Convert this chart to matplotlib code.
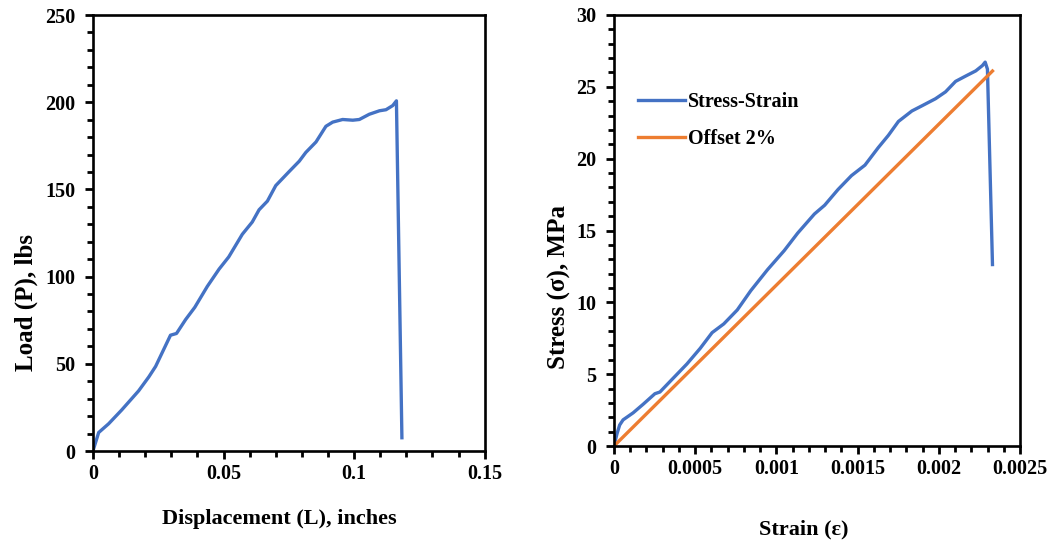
import matplotlib
matplotlib.use("Agg")
import matplotlib.pyplot as plt
from matplotlib.ticker import MultipleLocator, FuncFormatter

# ---- Data: Load vs Displacement ----
disp_in = [0, 0.0022, 0.006, 0.011, 0.0175, 0.0214, 0.024, 0.0297, 0.032, 0.0355,
           0.039, 0.0438, 0.0483, 0.052, 0.0572, 0.061, 0.0636, 0.0668, 0.070,
           0.0751, 0.079, 0.0815, 0.0854, 0.0892, 0.0918, 0.0956, 0.0995, 0.102,
           0.1058, 0.1097, 0.1122, 0.1148, 0.1162, 0.1183]
load_lbs = [0, 10.6, 15.6, 23.5, 34.5, 42.5, 48.5, 66.4, 67.4, 75.4,
            82.4, 94.4, 104.3, 111.3, 124.3, 131.3, 138.3, 143.3, 152.2,
            160.2, 166.2, 171.2, 177.2, 186.2, 188.6, 190.1, 189.7, 190.1,
            193.1, 195.1, 195.7, 198.1, 200.8, 7.6]

# ---- Data: Stress vs Strain ----
strain = [0, 0.0000186, 0.000035, 0.000056, 0.000118, 0.00018, 0.000252, 0.000283,
          0.000345, 0.000449, 0.000531, 0.000604, 0.000676, 0.000759, 0.000842,
          0.000945, 0.001048, 0.001131, 0.001234, 0.001297, 0.001379, 0.001462,
          0.001545, 0.001627, 0.001689, 0.001751, 0.001834, 0.001896, 0.001979,
          0.002041, 0.002103, 0.002165, 0.002227, 0.002268, 0.002285, 0.002299,
          0.002330]
stress = [0, 0.85, 1.46, 1.82, 2.31, 2.91, 3.64, 3.76, 4.49, 5.71, 6.80, 7.89, 8.50,
          9.47, 10.81, 12.27, 13.60, 14.82, 16.15, 16.76, 17.85, 18.82, 19.55, 20.77,
          21.62, 22.59, 23.32, 23.68, 24.17, 24.65, 25.38, 25.75, 26.11, 26.48, 26.72,
          26.23, 12.63]

offset_strain = [0, 0.00233]
offset_stress = [0, 26.1]

BLUE = "#4472C4"
ORANGE = "#ED7D31"

plt.rcParams['font.family'] = ['Liberation Serif', 'DejaVu Serif']
plt.rcParams['font.weight'] = 'bold'

fig = plt.figure(figsize=(10.56, 5.47), dpi=100)
ax1 = fig.add_axes([0.088, 0.1755, 0.371, 0.797])
ax2 = fig.add_axes([0.5814, 0.1846, 0.3846, 0.788])

gfmt = FuncFormatter(lambda v, p: "{:g}".format(round(v, 6)))

def style(ax):
    for s in ax.spines.values():
        s.set_linewidth(1.9)
        s.set_color("black")
    ax.tick_params(which='major', direction='out', length=6, width=2, labelsize=14.5, color='black')
    ax.tick_params(which='minor', direction='out', length=4.5, width=2, color='black')
    ax.tick_params(axis='y', which='major', pad=6.5)
    for lab in ax.get_xticklabels() + ax.get_yticklabels():
        lab.set_fontweight('bold')

ax1.plot(disp_in, load_lbs, color=BLUE, lw=2.4, solid_joinstyle='round')
ax1.set_xlim(0, 0.15)
ax1.set_ylim(0, 250)
ax1.xaxis.set_major_locator(MultipleLocator(0.05))
ax1.xaxis.set_minor_locator(MultipleLocator(0.01))
ax1.yaxis.set_major_locator(MultipleLocator(50))
ax1.yaxis.set_minor_locator(MultipleLocator(10))
ax1.xaxis.set_major_formatter(gfmt)
ax1.yaxis.set_major_formatter(gfmt)
style(ax1)
ax1.set_xlabel("Displacement (L), inches", fontsize=16, fontweight='bold', labelpad=18)
ax1.set_ylabel("Load (P), lbs", fontsize=18, fontweight='bold', labelpad=5)
ax1.xaxis.label.set_x(0.477)
ax1.yaxis.label.set_y(0.34)

ax2.plot(strain, stress, color=BLUE, lw=2.4, solid_joinstyle='round', label="Stress-Strain")
ax2.plot(offset_strain, offset_stress, color=ORANGE, lw=2.4, label="Offset 2%")
ax2.set_xlim(0, 0.0025)
ax2.set_ylim(0, 30)
ax2.xaxis.set_major_locator(MultipleLocator(0.0005))
ax2.xaxis.set_minor_locator(MultipleLocator(0.0001))
ax2.yaxis.set_major_locator(MultipleLocator(5))
ax2.yaxis.set_minor_locator(MultipleLocator(1))
ax2.xaxis.set_major_formatter(gfmt)
ax2.yaxis.set_major_formatter(gfmt)
style(ax2)
ax2.set_xlabel("Strain (ε)", fontsize=16, fontweight='bold', labelpad=29)
ax2.set_ylabel("Stress (σ), MPa", fontsize=18, fontweight='bold', labelpad=4)
ax2.xaxis.label.set_x(0.468)
ax2.yaxis.label.set_y(0.37)
leg = ax2.legend(loc='upper left', bbox_to_anchor=(0.059, 0.822), frameon=False,
                 prop={'family': 'Liberation Serif', 'weight': 'bold', 'size': 14.5},
                 handlelength=2.35, handletextpad=0.15, labelspacing=0.85,
                 borderpad=0, borderaxespad=0)

fig.savefig("out.png", dpi=100)
